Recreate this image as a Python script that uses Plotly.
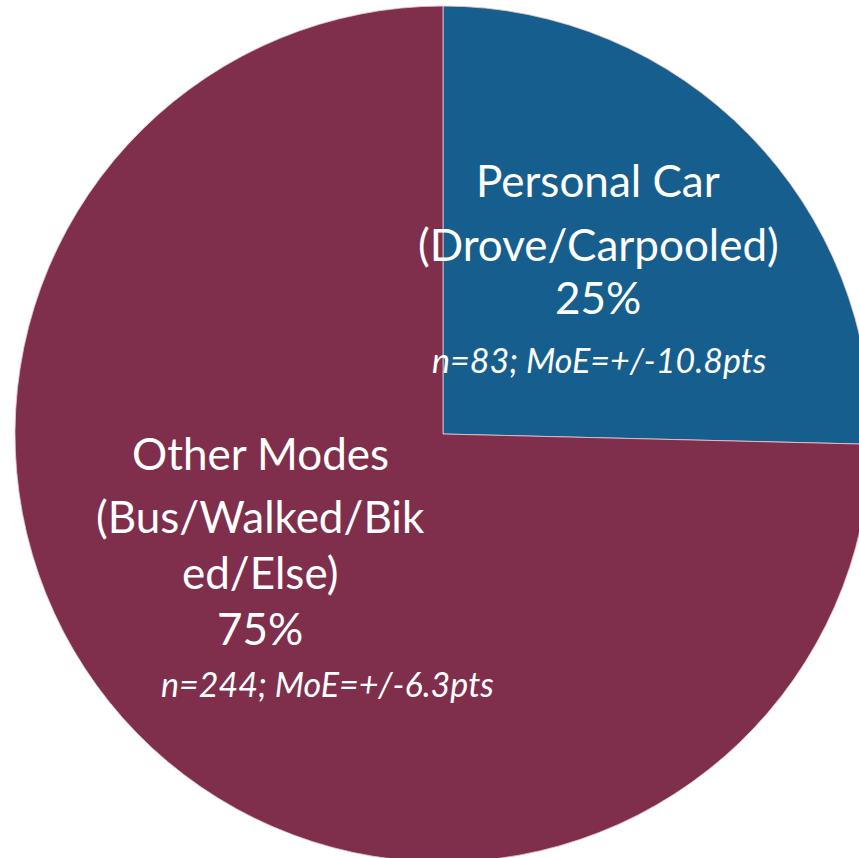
import plotly.graph_objects as go

# ---- data ----
categories = ["Personal Car (Drove/Carpooled)", "Other Modes (Bus/Walked/Biked/Else)"]
label_lines = [["Personal Car", "(Drove/Carpooled)"],
               ["Other Modes", "(Bus/Walked/Bik", "ed/Else)"]]
counts = [83, 244]
moe_pts = [10.8, 6.3]
colors = ["#165E8E", "#7F2F4C"]

W, H = 880, 870
total = sum(counts)
pcts = [round(c / total * 100) for c in counts]

fig = go.Figure(go.Pie(
    labels=categories,
    values=counts,
    sort=False,
    direction="clockwise",
    rotation=0,
    textinfo="none",
    hoverinfo="label+percent",
    marker=dict(colors=colors, line=dict(color="rgba(235,200,210,0.8)", width=1)),
    domain=dict(x=[15 / W, 871 / W], y=[(H - 862) / H, (H - 6) / H]),
    showlegend=False,
))

def px(x, y):
    return x / W, 1 - y / H

# text placement (page pixels): centre x, list of line centre y's, italic y
layout_pos = [
    dict(cx=598, ys=[180, 244, 297], iy=360, icx=599),
    dict(cx=260, ys=[453, 516, 572, 628], iy=683, icx=327),
]
annotations = []
for i in range(len(categories)):
    lines = label_lines[i] + [f"{pcts[i]}%"]
    pos = layout_pos[i]
    for line, y in zip(lines, pos["ys"]):
        ax, ay = px(pos["cx"], y)
        annotations.append(dict(x=ax, y=ay, xref="paper", yref="paper", text=line,
                                showarrow=False, xanchor="center", yanchor="middle",
                                font=dict(family="Lato", size=44, color="white")))
    ax, ay = px(pos["icx"], pos["iy"])
    annotations.append(dict(x=ax, y=ay, xref="paper", yref="paper",
                            text=f"<i>n={counts[i]}; MoE=+/-{moe_pts[i]}pts</i>",
                            showarrow=False, xanchor="center", yanchor="middle",
                            font=dict(family="Lato", size=34, color="white")))

fig.update_layout(width=W, height=H, margin=dict(l=0, r=0, t=0, b=0),
                  paper_bgcolor="white", plot_bgcolor="white",
                  annotations=annotations)

fig.write_html("out.html", config={"displayModeBar": False},
               post_script="document.body.style.margin='0';document.body.style.overflow='hidden';")
